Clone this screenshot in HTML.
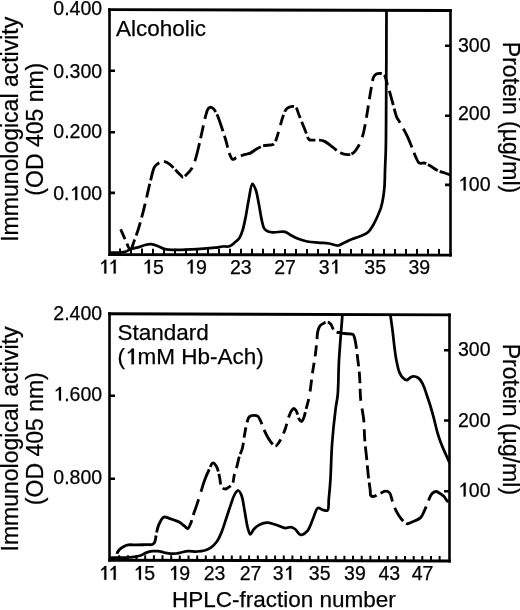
<!DOCTYPE html>
<html><head><meta charset="utf-8"><style>
html,body{margin:0;padding:0;background:#fff;}
svg{display:block;filter:grayscale(1);}
text{-webkit-font-smoothing:antialiased;}
text{font-family:"Liberation Sans",sans-serif;fill:#000;stroke:#000;stroke-width:0.25px;}
tspan.n{fill:none;stroke:none;}
</style></head><body>
<svg width="520" height="610" viewBox="0 0 520 610">
<rect width="520" height="610" fill="#fff"/>
<clipPath id="c1"><rect x="109.5" y="9.4" width="341.0" height="245.4"/></clipPath>
<g clip-path="url(#c1)">
<path d="M120.30,228.50 C121.87,232.00 123.33,235.52 125.00,239.00 C126.69,242.52 128.78,249.55 130.40,249.50 C131.92,249.45 133.21,243.28 134.50,240.00 C135.85,236.56 137.11,233.01 138.30,229.30 C139.56,225.36 140.65,221.29 141.80,217.00 C143.05,212.33 144.17,207.78 145.50,202.30 C147.18,195.39 149.28,185.28 151.00,178.80 C152.23,174.17 152.88,169.64 154.50,167.00 C155.54,165.30 156.68,164.37 158.20,163.50 C159.93,162.52 162.51,161.52 164.50,161.70 C166.41,161.88 168.19,163.17 169.90,164.40 C171.82,165.78 173.50,168.00 175.30,169.80 C177.10,171.60 179.25,173.81 180.70,175.20 C181.65,176.11 182.20,177.39 183.10,177.40 C184.24,177.41 185.72,175.27 187.00,174.00 C188.42,172.60 189.98,171.19 191.20,169.30 C192.65,167.06 193.66,164.45 194.80,161.20 C196.41,156.60 197.93,149.75 199.30,144.10 C200.63,138.61 201.78,132.78 202.90,127.80 C203.85,123.58 204.59,119.56 205.60,116.10 C206.43,113.27 207.03,109.87 208.30,108.50 C209.07,107.67 210.12,107.24 211.00,107.30 C211.92,107.37 212.84,108.11 213.70,109.00 C214.99,110.34 216.14,112.71 217.30,115.20 C218.88,118.61 220.33,123.44 221.80,127.80 C223.37,132.45 225.13,137.87 226.40,142.30 C227.45,145.98 227.83,149.49 229.00,152.50 C230.01,155.09 231.21,158.93 232.70,159.40 C233.77,159.74 235.02,158.17 236.30,157.60 C237.70,156.97 239.16,156.36 240.80,155.80 C242.71,155.15 245.34,154.49 247.10,154.00 C248.38,153.64 249.21,153.64 250.40,153.10 C252.03,152.36 253.83,150.64 255.80,149.50 C257.99,148.23 260.28,146.78 263.00,145.90 C266.17,144.87 271.57,145.76 273.80,144.10 C275.47,142.86 275.68,140.70 276.50,138.60 C277.52,136.00 278.25,132.86 279.20,129.60 C280.33,125.76 281.46,120.70 282.80,117.00 C283.90,113.96 284.74,110.64 286.40,108.90 C287.67,107.58 289.43,106.88 291.00,106.60 C292.47,106.34 294.27,106.20 295.50,107.10 C297.22,108.36 297.93,112.42 299.10,115.20 C300.33,118.11 301.50,121.20 302.70,124.20 C303.90,127.20 305.17,130.47 306.30,133.20 C307.25,135.49 307.58,138.42 309.00,139.50 C310.16,140.38 311.93,140.00 313.50,140.10 C315.21,140.21 317.13,139.93 318.90,140.10 C320.63,140.27 322.15,140.31 324.00,141.10 C326.69,142.24 330.18,145.36 333.00,147.40 C335.55,149.25 337.67,151.60 340.20,152.80 C342.50,153.89 345.17,154.59 347.40,154.60 C349.33,154.61 351.16,154.35 352.80,153.30 C354.85,151.99 356.63,149.15 358.20,146.50 C360.02,143.42 361.43,139.83 362.70,135.70 C364.29,130.53 365.33,123.56 366.40,117.70 C367.41,112.14 368.10,106.82 369.00,101.40 C369.90,95.99 370.92,89.66 371.80,85.20 C372.43,82.03 372.59,79.05 373.60,77.10 C374.30,75.74 375.15,74.71 376.30,74.10 C377.52,73.46 379.42,73.27 380.80,73.50 C382.10,73.72 383.44,74.19 384.40,75.30 C385.80,76.92 386.22,80.62 387.10,83.40 C388.02,86.31 388.87,89.18 389.80,92.40 C390.87,96.11 391.97,100.35 393.10,104.40 C394.27,108.58 395.36,114.00 396.70,117.10 C397.54,119.05 398.44,119.97 399.40,121.60 C400.52,123.52 401.75,125.60 403.00,127.90 C404.47,130.62 406.14,133.73 407.60,136.90 C409.18,140.33 410.69,144.34 412.10,147.80 C413.38,150.94 414.40,154.11 415.70,156.80 C416.82,159.13 417.62,162.13 419.30,163.10 C420.75,163.94 422.95,162.69 424.70,163.10 C426.55,163.54 428.20,164.73 430.10,165.80 C432.36,167.07 434.83,169.09 437.30,170.30 C439.67,171.46 442.24,172.19 444.60,173.00 C446.79,173.75 448.87,174.33 451.00,175.00" fill="none" stroke="#000" stroke-width="2.85" stroke-dasharray="0.0 1.0 10.8 4.8 7.0 1.4 9.4 4.4 13.8 5.0 14.4 6.2 14.0 3.4 20.6 4.6 11.8 2.4 11.2 2.2 11.2 6.8 18.8 4.8 13.2 6.6 21.0 2.6 18.0 4.6 12.2 5.8 11.4 5.0 22.2 2.4 11.0 3.2 10.0 7.0 10.6 3.2 11.6 2.6 11.0 4.0 12.6 3.6 9.6 3.6 20.8 4.2 10.4 1.2 12.8 7.6 13.2 6.8 12.2 6.4 12.2 6.4 13.6 2.8 10.6 6.2 14.6 3.6 15.6 6.6 20.6 5.6 19.0 2.0 11.4 2.0 11.8 730.4" stroke-linejoin="round"/>
<path d="M109.50,252.50 C113.00,252.50 117.00,252.75 120.00,252.50 C122.29,252.31 124.20,252.10 126.00,251.50 C127.63,250.95 128.62,249.88 130.40,249.20 C132.86,248.26 136.96,247.69 139.60,246.90 C141.65,246.28 143.11,245.45 145.00,245.00 C146.97,244.53 149.10,244.04 151.20,244.20 C153.46,244.37 155.83,245.38 158.10,246.20 C160.43,247.04 162.48,248.57 165.00,249.20 C167.79,249.89 170.44,249.81 174.20,249.90 C180.16,250.04 190.12,249.61 197.30,249.20 C203.60,248.84 210.32,248.26 215.00,247.70 C218.10,247.33 220.20,246.75 222.70,246.50 C225.06,246.27 227.54,246.92 229.60,246.20 C231.63,245.50 233.32,243.73 235.00,242.30 C236.66,240.89 238.36,239.58 239.60,237.70 C241.00,235.58 241.77,232.98 242.70,230.00 C243.91,226.11 244.83,221.05 245.80,216.20 C246.87,210.84 247.67,204.71 248.80,199.20 C249.88,193.92 250.90,184.00 252.40,183.80 C253.40,183.66 254.84,187.44 255.80,190.00 C257.15,193.62 257.83,198.95 258.80,203.80 C259.87,209.16 260.81,216.26 261.90,220.80 C262.64,223.89 262.93,226.66 264.20,228.50 C265.19,229.94 266.60,230.86 268.10,231.50 C269.68,232.17 271.36,232.18 273.50,232.30 C276.61,232.47 281.97,231.15 285.00,231.90 C287.23,232.45 288.42,233.95 290.40,235.00 C292.72,236.24 295.37,237.74 298.10,238.80 C300.98,239.93 304.08,240.85 307.30,241.50 C310.73,242.19 314.51,242.37 318.10,242.70 C321.67,243.03 325.37,243.01 328.80,243.50 C332.03,243.97 335.57,245.75 338.10,245.50 C339.94,245.32 341.07,244.27 342.70,243.50 C344.60,242.60 346.73,241.31 348.80,240.40 C350.83,239.51 352.87,238.88 355.00,238.10 C357.26,237.28 359.77,236.63 362.00,235.60 C364.20,234.59 366.52,233.61 368.30,232.00 C370.14,230.34 371.39,228.05 372.80,225.70 C374.41,223.02 375.92,219.73 377.30,216.70 C378.65,213.72 380.02,210.89 381.00,207.70 C382.05,204.29 382.72,200.44 383.30,196.80 C383.88,193.21 384.21,190.06 384.50,186.00 C384.88,180.77 384.88,174.00 385.10,168.00 C385.32,162.00 385.62,157.50 385.80,150.00 C386.09,137.50 386.09,119.14 386.20,100.00 C386.35,74.17 386.40,39.33 386.50,9.00" fill="none" stroke="#000" stroke-width="2.75" stroke-linejoin="round"/>
</g>
<path d="M109.5,70.8h5.5 M109.5,132.2h5.5 M109.5,192.9h5.5 M450.5,45.7h-5.5 M450.5,115.7h-5.5 M450.5,184.9h-5.5 " stroke="#000" stroke-width="2.6" fill="none"/>
<path d="M120.0,254.6v-6.0 M131.0,254.6v-6.0 M142.0,254.6v-6.0 M153.0,254.7v-6.0 M164.0,254.7v-6.0 M175.0,254.7v-6.0 M186.0,254.7v-6.0 M197.0,254.7v-6.0 M208.0,254.7v-6.0 M219.0,254.8v-6.0 M230.0,254.8v-6.0 M241.0,254.8v-6.0 M252.0,254.8v-6.0 M263.0,254.8v-6.0 M274.0,254.8v-6.0 M285.0,254.9v-6.0 M296.0,254.9v-6.0 M307.0,254.9v-6.0 M318.0,254.9v-6.0 M329.0,254.9v-6.0 M340.0,254.9v-6.0 M351.0,255.0v-6.0 M362.0,255.0v-6.0 M373.0,255.0v-6.0 M384.0,255.0v-6.0 M395.0,255.0v-6.0 M406.0,255.0v-6.0 M417.0,255.1v-6.0 M428.0,255.1v-6.0 M439.0,255.1v-6.0 " stroke="#000" stroke-width="2" fill="none"/>
<path d="M108.20,9.60L451.80,10.50M108.20,254.60L451.80,255.10" stroke="#000" stroke-width="2.9" fill="none"/>
<path d="M109.50,8.20L109.50,256.00M450.50,9.10L450.50,256.50" stroke="#000" stroke-width="2.6" fill="none"/>
<clipPath id="c2"><rect x="109.5" y="314.6" width="340.0" height="245.60000000000002"/></clipPath>
<g clip-path="url(#c2)">
<path d="M116.80,556.00 C116.90,555.13 116.78,554.32 117.10,553.40 C117.52,552.19 118.47,550.61 119.50,549.50 C120.56,548.37 121.98,547.46 123.40,546.70 C124.87,545.91 126.33,545.24 128.20,544.90 C130.62,544.46 133.85,544.95 136.80,544.90 C139.94,544.85 143.69,544.67 146.50,544.60 C148.65,544.55 150.82,545.00 152.20,544.50 C153.15,544.16 153.81,543.45 154.30,542.80 C154.73,542.23 154.86,541.69 155.10,540.90 C155.47,539.68 155.64,537.93 156.00,536.10 C156.49,533.65 156.99,530.09 157.80,527.50 C158.51,525.25 159.33,523.19 160.40,521.40 C161.37,519.77 162.25,517.63 163.80,517.10 C165.56,516.50 168.41,518.10 170.70,518.80 C173.05,519.52 176.01,520.68 177.70,521.40 C178.69,521.82 179.14,521.96 180.00,522.50 C181.31,523.33 183.21,525.12 184.60,526.20 C185.73,527.07 186.76,528.70 187.70,528.50 C188.89,528.25 189.93,525.12 190.80,523.10 C191.78,520.81 192.20,518.17 193.10,515.40 C194.18,512.09 195.65,508.33 196.90,504.60 C198.22,500.64 199.50,496.40 200.80,492.30 C202.10,488.20 203.25,483.90 204.70,480.00 C206.07,476.33 207.69,472.56 209.20,469.50 C210.43,467.01 211.54,463.09 212.90,462.90 C214.02,462.75 215.51,464.82 216.50,466.50 C217.94,468.95 218.63,473.43 219.50,476.90 C220.36,480.33 220.20,485.29 221.70,487.20 C222.64,488.39 224.12,489.04 225.40,489.00 C226.81,488.95 228.55,487.56 229.80,486.50 C231.01,485.48 232.08,484.36 232.80,482.80 C233.71,480.84 233.59,477.85 234.20,475.40 C234.82,472.92 235.73,470.77 236.50,468.00 C237.46,464.54 238.32,459.69 239.40,456.20 C240.29,453.33 241.50,451.49 242.30,448.50 C243.35,444.59 243.79,439.01 244.60,434.60 C245.33,430.58 245.99,426.32 246.90,423.10 C247.58,420.69 247.88,418.17 249.20,416.90 C250.33,415.82 252.32,415.48 253.80,415.40 C255.14,415.32 256.61,415.42 257.70,416.20 C259.06,417.17 259.85,419.53 260.80,421.50 C261.91,423.79 262.61,426.54 263.80,429.20 C265.13,432.18 266.91,435.88 268.50,438.50 C269.75,440.57 271.00,442.45 272.30,443.80 C273.31,444.85 274.39,446.26 275.40,446.20 C276.46,446.13 277.50,444.42 278.50,443.10 C279.83,441.32 281.16,438.60 282.30,436.20 C283.47,433.74 284.43,431.31 285.40,428.50 C286.52,425.23 287.36,420.87 288.50,417.70 C289.43,415.11 290.40,412.42 291.50,410.80 C292.22,409.74 293.02,408.51 293.80,408.50 C294.59,408.49 295.47,409.68 296.20,410.80 C297.39,412.64 298.03,417.35 299.20,419.20 C299.91,420.31 300.78,421.59 301.50,421.50 C302.34,421.40 303.12,419.30 303.80,417.70 C304.79,415.35 305.42,411.43 306.20,408.50 C306.92,405.82 307.68,403.46 308.30,400.80 C308.96,397.98 309.44,395.45 310.00,392.00 C310.79,387.11 311.43,380.30 312.30,374.20 C313.22,367.72 314.60,360.26 315.40,354.20 C316.06,349.18 316.49,344.45 316.90,340.40 C317.22,337.23 317.11,334.46 317.70,331.90 C318.22,329.66 318.83,327.29 320.00,325.80 C320.98,324.55 322.47,323.80 323.80,323.20 C325.04,322.64 326.51,322.01 327.70,322.20 C328.84,322.38 329.94,323.24 330.80,324.20 C331.81,325.33 332.15,327.48 333.10,328.80 C333.98,330.02 335.01,331.25 336.20,331.90 C337.32,332.51 338.67,332.44 340.00,332.70 C341.46,332.98 343.06,333.30 344.60,333.50 C346.13,333.70 347.73,333.72 349.20,333.90 C350.56,334.06 352.20,333.80 353.10,334.50 C354.00,335.20 354.16,336.62 354.60,338.10 C355.26,340.29 355.72,343.43 356.20,346.50 C356.78,350.20 357.20,354.69 357.70,358.80 C358.20,362.92 358.84,367.42 359.20,371.20 C359.50,374.38 359.60,376.48 359.80,380.00 C360.10,385.26 360.05,393.15 360.70,399.70 C361.35,406.28 363.03,412.82 363.70,419.40 C364.36,425.93 364.20,432.46 364.70,439.00 C365.20,445.56 366.05,452.13 366.70,458.70 C367.35,465.27 367.93,472.70 368.60,478.40 C369.11,482.78 369.81,486.84 370.20,490.00 C370.47,492.17 369.99,494.46 370.80,495.50 C371.38,496.25 372.41,496.55 373.50,496.50 C375.28,496.42 378.22,494.12 380.40,493.20 C382.29,492.40 384.17,491.15 385.80,491.20 C387.19,491.25 388.58,491.78 389.60,492.90 C391.11,494.56 391.43,498.56 392.50,501.50 C393.65,504.65 394.78,508.23 396.30,511.20 C397.71,513.96 399.33,516.65 401.20,518.80 C402.90,520.76 404.87,523.31 406.90,523.70 C408.73,524.05 410.66,522.55 412.70,521.70 C415.12,520.69 418.46,519.73 420.40,517.90 C422.23,516.17 423.00,513.68 424.20,511.20 C425.59,508.31 426.75,504.52 428.10,501.50 C429.32,498.76 430.33,495.49 431.90,493.80 C433.04,492.57 434.49,491.57 435.80,491.50 C437.06,491.43 438.36,492.49 439.60,493.20 C440.93,493.97 442.32,494.85 443.50,496.00 C444.78,497.25 445.74,499.19 446.90,500.50 C447.91,501.65 448.97,502.50 450.00,503.50" fill="none" stroke="#000" stroke-width="2.85" stroke-dasharray="0.0 2.2 49.2 3.2 53.8 5.2 16.6 7.8 23.8 2.8 15.4 2.4 10.8 4.2 9.2 3.8 8.8 6.2 11.8 2.6 12.0 5.0 10.4 5.2 24.2 5.8 17.0 3.4 8.6 6.6 10.2 6.4 18.2 3.0 15.4 3.4 10.2 7.6 12.0 6.4 10.6 6.4 11.2 6.2 20.4 2.2 9.4 4.2 31.6 5.4 12.0 5.4 12.0 5.2 12.0 7.8 14.0 7.0 12.0 5.2 13.8 5.2 13.0 4.2 19.4 4.4 19.0 6.6 16.0 3.6 28.6 6.4 28.6 854.3" stroke-linejoin="round"/>
<path d="M109.50,557.80 C113.77,557.73 118.33,557.71 122.30,557.60 C125.76,557.50 128.96,557.54 132.00,557.20 C134.73,556.90 137.26,556.58 139.70,555.80 C142.09,555.03 144.30,553.38 146.50,552.60 C148.45,551.91 150.28,551.43 152.20,551.20 C154.11,550.97 156.06,550.99 158.00,551.20 C159.99,551.41 161.94,552.09 164.00,552.50 C166.17,552.93 168.59,553.55 170.70,553.70 C172.56,553.83 174.27,553.70 176.00,553.50 C177.70,553.30 179.21,552.87 181.00,552.50 C183.07,552.08 185.28,551.30 187.70,551.10 C190.51,550.87 193.97,551.63 196.90,551.50 C199.59,551.38 202.22,551.18 204.60,550.50 C206.83,549.87 208.86,549.05 210.80,547.70 C212.99,546.17 215.17,543.93 216.90,541.50 C218.79,538.86 220.07,535.73 221.50,532.30 C223.21,528.22 224.65,523.11 226.20,518.50 C227.75,513.88 229.29,508.84 230.80,504.60 C232.09,500.98 233.09,497.11 234.60,494.60 C235.68,492.81 237.07,490.43 238.20,490.50 C239.38,490.58 240.58,493.19 241.50,495.40 C243.00,499.00 243.59,505.54 244.60,510.80 C245.66,516.30 246.47,523.41 247.70,527.70 C248.49,530.46 249.24,534.18 250.30,534.30 C251.29,534.41 252.31,530.75 253.80,529.20 C255.46,527.47 257.77,525.69 260.00,524.60 C262.15,523.55 264.50,522.76 266.90,522.70 C269.48,522.64 272.17,523.69 275.00,524.50 C278.23,525.43 282.25,527.85 285.20,528.10 C287.38,528.28 289.28,526.86 291.00,527.10 C292.49,527.30 293.65,528.03 295.00,529.00 C296.83,530.31 298.52,534.50 300.60,534.80 C302.63,535.09 305.40,533.06 307.30,531.00 C309.84,528.25 311.27,522.50 313.10,518.50 C314.78,514.83 315.82,508.74 317.90,507.90 C319.29,507.34 321.07,509.38 322.70,509.80 C324.27,510.20 326.42,511.25 327.50,510.40 C329.15,509.11 328.38,503.44 328.80,499.20 C329.35,493.66 329.92,487.42 330.40,480.00 C331.06,469.78 331.22,455.50 332.10,443.50 C332.96,431.78 334.47,417.74 335.60,408.80 C336.31,403.15 337.16,400.66 337.70,395.00 C338.54,386.09 338.32,372.66 339.00,360.40 C339.78,346.47 341.87,322.52 342.30,315.80 C342.42,313.84 342.43,313.27 342.50,312.00" fill="none" stroke="#000" stroke-width="2.75" stroke-linejoin="round"/>
<path d="M390.30,312.00 C390.37,313.07 390.36,313.73 390.50,315.20 C390.82,318.47 391.95,325.74 392.60,331.00 C393.25,336.24 393.75,341.70 394.40,346.70 C394.99,351.30 395.44,355.56 396.30,359.90 C397.15,364.20 398.06,369.35 399.50,372.60 C400.51,374.89 401.74,376.69 403.10,378.00 C404.20,379.05 405.59,380.24 406.70,380.20 C407.70,380.16 408.57,378.81 409.50,378.20 C410.37,377.62 411.00,376.79 412.10,376.60 C413.70,376.33 416.65,376.84 418.40,378.00 C420.32,379.27 421.62,381.86 422.90,384.30 C424.40,387.14 425.32,390.82 426.50,394.20 C427.72,397.71 428.94,401.24 430.10,405.00 C431.35,409.05 432.53,413.32 433.70,417.70 C434.94,422.34 436.01,427.67 437.30,432.10 C438.43,435.98 439.55,439.33 440.90,442.90 C442.27,446.53 444.09,450.47 445.50,453.70 C446.65,456.35 447.68,458.86 448.70,460.90 C449.49,462.48 450.23,463.63 451.00,465.00" fill="none" stroke="#000" stroke-width="2.75" stroke-linejoin="round"/>
</g>
<path d="M109.5,395.8h5.5 M109.5,478.7h5.5 M449.5,350.3h-5.5 M449.5,420.5h-5.5 M449.5,491.2h-5.5 " stroke="#000" stroke-width="2.6" fill="none"/>
<path d="M119.2,560.2v-5.0 M127.9,560.2v-5.0 M136.5,560.3v-5.0 M145.2,560.3v-5.0 M153.9,560.3v-5.0 M162.5,560.3v-5.0 M171.2,560.3v-5.0 M179.8,560.4v-5.0 M188.5,560.4v-5.0 M197.2,560.4v-5.0 M205.8,560.4v-5.0 M214.5,560.4v-5.0 M223.1,560.5v-5.0 M231.8,560.5v-5.0 M240.5,560.5v-5.0 M249.1,560.5v-5.0 M257.8,560.5v-5.0 M266.4,560.6v-5.0 M275.1,560.6v-5.0 M283.8,560.6v-5.0 M292.4,560.6v-5.0 M301.1,560.7v-5.0 M309.7,560.7v-5.0 M318.4,560.7v-5.0 M327.1,560.7v-5.0 M335.7,560.7v-5.0 M344.4,560.8v-5.0 M353.0,560.8v-5.0 M361.7,560.8v-5.0 M370.4,560.8v-5.0 M379.0,560.8v-5.0 M387.7,560.9v-5.0 M396.3,560.9v-5.0 M405.0,560.9v-5.0 M413.7,560.9v-5.0 M422.3,560.9v-5.0 M431.0,561.0v-5.0 M439.6,561.0v-5.0 " stroke="#000" stroke-width="2" fill="none"/>
<path d="M108.20,313.70L450.80,314.90M108.20,560.20L450.80,561.00" stroke="#000" stroke-width="2.9" fill="none"/>
<path d="M109.50,312.30L109.50,561.60M449.50,313.50L449.50,562.40" stroke="#000" stroke-width="2.6" fill="none"/>
<text x="102.1" y="15.1" font-size="19.5" text-anchor="end" >0.400</text>
<text x="102.1" y="77.7" font-size="19.5" text-anchor="end" >0.300</text>
<text x="102.1" y="137.7" font-size="19.5" text-anchor="end" >0.200</text>
<text id="one0" x="102.1" y="200.1" font-size="19.5" text-anchor="end" >0.<tspan class="n">1</tspan>00</text>
<text x="102.1" y="320.1" font-size="19.5" text-anchor="end" >2.400</text>
<text id="one1" x="102.1" y="400.6" font-size="19.5" text-anchor="end" ><tspan class="n">1</tspan>.600</text>
<text x="102.1" y="483.8" font-size="19.5" text-anchor="end" >0.800</text>
<text x="458" y="51.7" font-size="19.5" text-anchor="start" >300</text>
<text x="458" y="120.2" font-size="19.5" text-anchor="start" >200</text>
<text id="one2" x="458" y="190.6" font-size="19.5" text-anchor="start" ><tspan class="n">1</tspan>00</text>
<text x="458" y="356.3" font-size="19.5" text-anchor="start" >300</text>
<text x="458" y="426.5" font-size="19.5" text-anchor="start" >200</text>
<text id="one3" x="458" y="496.5" font-size="19.5" text-anchor="start" ><tspan class="n">1</tspan>00</text>
<text id="one4" x="108.75" y="273.5" font-size="19.5" text-anchor="middle" ><tspan class="n">1</tspan><tspan class="n">1</tspan></text>
<text id="one5" x="153" y="273.5" font-size="19.5" text-anchor="middle" ><tspan class="n">1</tspan>5</text>
<text id="one6" x="195.9" y="273.5" font-size="19.5" text-anchor="middle" ><tspan class="n">1</tspan>9</text>
<text x="240.8" y="273.5" font-size="19.5" text-anchor="middle" >23</text>
<text x="285" y="273.5" font-size="19.5" text-anchor="middle" >27</text>
<text id="one7" x="329.6" y="273.5" font-size="19.5" text-anchor="middle" >3<tspan class="n">1</tspan></text>
<text x="375.2" y="273.5" font-size="19.5" text-anchor="middle" >35</text>
<text x="419.3" y="273.5" font-size="19.5" text-anchor="middle" >39</text>
<text id="one8" x="108.75" y="579.8" font-size="19.5" text-anchor="middle" ><tspan class="n">1</tspan><tspan class="n">1</tspan></text>
<text id="one9" x="144.15" y="579.8" font-size="19.5" text-anchor="middle" ><tspan class="n">1</tspan>5</text>
<text id="one10" x="179.3" y="579.8" font-size="19.5" text-anchor="middle" ><tspan class="n">1</tspan>9</text>
<text x="214.5" y="579.8" font-size="19.5" text-anchor="middle" >23</text>
<text x="250.5" y="579.8" font-size="19.5" text-anchor="middle" >27</text>
<text id="one11" x="283.5" y="579.8" font-size="19.5" text-anchor="middle" >3<tspan class="n">1</tspan></text>
<text x="319.7" y="579.8" font-size="19.5" text-anchor="middle" >35</text>
<text x="354.9" y="579.8" font-size="19.5" text-anchor="middle" >39</text>
<text x="389.3" y="579.8" font-size="19.5" text-anchor="middle" >43</text>
<text x="422.5" y="579.8" font-size="19.5" text-anchor="middle" >47</text>
<text x="116" y="35.8" font-size="22.5" text-anchor="start" >Alcoholic</text>
<text x="117.5" y="339.6" font-size="22.5" text-anchor="start" >Standard</text>
<text id="one12" x="117.5" y="364.3" font-size="22.5" text-anchor="start" >(<tspan class="n">1</tspan>mM Hb-Ach)</text>
<text x="172" y="607.2" font-size="22.5" text-anchor="start" >HPLC-fraction number</text>
<text transform="translate(18,129.3) rotate(-90)" font-size="23" text-anchor="middle">Immunological activity</text>
<text transform="translate(43,129.2) rotate(-90)" font-size="23" text-anchor="middle">(OD 405 nm)</text>
<text transform="translate(18,439) rotate(-90)" font-size="23" text-anchor="middle">Immunological activity</text>
<text transform="translate(43,438.7) rotate(-90)" font-size="23" text-anchor="middle">(OD 405 nm)</text>
<text transform="translate(502.8,117.5) rotate(90)" font-size="23" text-anchor="middle">Protein (µg/ml)</text>
<text transform="translate(502.5,419.4) rotate(90)" font-size="23" text-anchor="middle">Protein (µg/ml)</text>
<path transform="translate(69.54,200.10) scale(19.5)" d="M0.395,-0.703L0.395,0L0.29,0L0.29,-0.56L0.13,-0.465L0.13,-0.54Q0.25,-0.6 0.305,-0.703Z" stroke="#000" stroke-width="0.0128"/>
<path transform="translate(53.29,400.60) scale(19.5)" d="M0.395,-0.703L0.395,0L0.29,0L0.29,-0.56L0.13,-0.465L0.13,-0.54Q0.25,-0.6 0.305,-0.703Z" stroke="#000" stroke-width="0.0128"/>
<path transform="translate(458.00,190.60) scale(19.5)" d="M0.395,-0.703L0.395,0L0.29,0L0.29,-0.56L0.13,-0.465L0.13,-0.54Q0.25,-0.6 0.305,-0.703Z" stroke="#000" stroke-width="0.0128"/>
<path transform="translate(458.00,496.50) scale(19.5)" d="M0.395,-0.703L0.395,0L0.29,0L0.29,-0.56L0.13,-0.465L0.13,-0.54Q0.25,-0.6 0.305,-0.703Z" stroke="#000" stroke-width="0.0128"/>
<path transform="translate(98.62,273.50) scale(19.5)" d="M0.395,-0.703L0.395,0L0.29,0L0.29,-0.56L0.13,-0.465L0.13,-0.54Q0.25,-0.6 0.305,-0.703Z" stroke="#000" stroke-width="0.0128"/>
<path transform="translate(108.02,273.50) scale(19.5)" d="M0.395,-0.703L0.395,0L0.29,0L0.29,-0.56L0.13,-0.465L0.13,-0.54Q0.25,-0.6 0.305,-0.703Z" stroke="#000" stroke-width="0.0128"/>
<path transform="translate(142.14,273.50) scale(19.5)" d="M0.395,-0.703L0.395,0L0.29,0L0.29,-0.56L0.13,-0.465L0.13,-0.54Q0.25,-0.6 0.305,-0.703Z" stroke="#000" stroke-width="0.0128"/>
<path transform="translate(185.04,273.50) scale(19.5)" d="M0.395,-0.703L0.395,0L0.29,0L0.29,-0.56L0.13,-0.465L0.13,-0.54Q0.25,-0.6 0.305,-0.703Z" stroke="#000" stroke-width="0.0128"/>
<path transform="translate(329.60,273.50) scale(19.5)" d="M0.395,-0.703L0.395,0L0.29,0L0.29,-0.56L0.13,-0.465L0.13,-0.54Q0.25,-0.6 0.305,-0.703Z" stroke="#000" stroke-width="0.0128"/>
<path transform="translate(98.62,579.80) scale(19.5)" d="M0.395,-0.703L0.395,0L0.29,0L0.29,-0.56L0.13,-0.465L0.13,-0.54Q0.25,-0.6 0.305,-0.703Z" stroke="#000" stroke-width="0.0128"/>
<path transform="translate(108.02,579.80) scale(19.5)" d="M0.395,-0.703L0.395,0L0.29,0L0.29,-0.56L0.13,-0.465L0.13,-0.54Q0.25,-0.6 0.305,-0.703Z" stroke="#000" stroke-width="0.0128"/>
<path transform="translate(133.29,579.80) scale(19.5)" d="M0.395,-0.703L0.395,0L0.29,0L0.29,-0.56L0.13,-0.465L0.13,-0.54Q0.25,-0.6 0.305,-0.703Z" stroke="#000" stroke-width="0.0128"/>
<path transform="translate(168.44,579.80) scale(19.5)" d="M0.395,-0.703L0.395,0L0.29,0L0.29,-0.56L0.13,-0.465L0.13,-0.54Q0.25,-0.6 0.305,-0.703Z" stroke="#000" stroke-width="0.0128"/>
<path transform="translate(283.50,579.80) scale(19.5)" d="M0.395,-0.703L0.395,0L0.29,0L0.29,-0.56L0.13,-0.465L0.13,-0.54Q0.25,-0.6 0.305,-0.703Z" stroke="#000" stroke-width="0.0128"/>
<path transform="translate(125.00,364.30) scale(22.5)" d="M0.395,-0.703L0.395,0L0.29,0L0.29,-0.56L0.13,-0.465L0.13,-0.54Q0.25,-0.6 0.305,-0.703Z" stroke="#000" stroke-width="0.0111"/>
</svg>
</body></html>
